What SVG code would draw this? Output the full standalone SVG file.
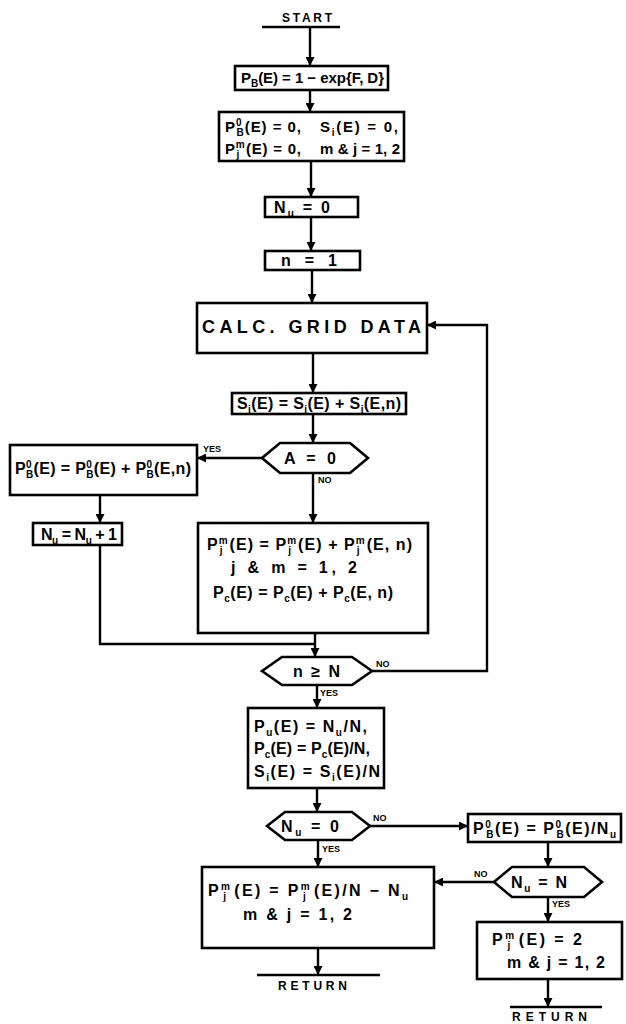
<svg xmlns="http://www.w3.org/2000/svg" width="626" height="1024" viewBox="0 0 626 1024">
<defs>
<marker id="ah" viewBox="0 0 10 10" refX="10" refY="5" markerWidth="9" markerHeight="9" markerUnits="userSpaceOnUse" orient="auto"><path d="M0,0 L10,5 L0,10 z" fill="#000"/></marker>
<style>
.b{fill:#fff;stroke:#000;stroke-width:2.6}
.c{fill:none;stroke:#000;stroke-width:2.4}
.a{fill:none;stroke:#000;stroke-width:2.4;marker-end:url(#ah)}
.t{font-family:"Liberation Sans",Arial,sans-serif;font-weight:bold;font-size:16px;fill:#000}
.s15{font-size:15px}
.sb{font-size:10px}
.l{font-family:"Liberation Sans",Arial,sans-serif;font-weight:bold;font-size:9px;fill:#000}
.k{font-family:"Liberation Sans",Arial,sans-serif;font-weight:bold;font-size:12px;fill:#000}
</style>
</defs>
<rect width="626" height="1024" fill="#fff"/>

<g id="connectors">
<line class="c" x1="262" y1="27" x2="340" y2="27"/>
<line class="a" x1="310" y1="27" x2="310" y2="66"/>
<line class="a" x1="310" y1="90" x2="310" y2="112"/>
<line class="a" x1="311" y1="161" x2="311" y2="197"/>
<line class="a" x1="311" y1="217" x2="311" y2="251"/>
<line class="a" x1="312" y1="270" x2="312" y2="303"/>
<line class="a" x1="313" y1="353" x2="313" y2="393"/>
<line class="a" x1="313" y1="414" x2="313" y2="443"/>
<line class="a" x1="262" y1="458" x2="197" y2="458"/>
<line class="a" x1="313" y1="473" x2="313" y2="523"/>
<line class="a" x1="100" y1="495" x2="100" y2="523"/>
<polyline class="c" points="100,545 100,644 315,644"/>
<line class="a" x1="315" y1="633" x2="315" y2="657"/>
<polyline class="a" points="372,671 487,671 487,325 427,325"/>
<line class="a" x1="317" y1="685" x2="317" y2="708"/>
<line class="a" x1="317" y1="788" x2="317" y2="812"/>
<line class="a" x1="370" y1="826" x2="468" y2="826"/>
<line class="a" x1="548" y1="842" x2="548" y2="867"/>
<line class="a" x1="494" y1="882" x2="434" y2="882"/>
<line class="a" x1="548" y1="897" x2="548" y2="922"/>
<line class="a" x1="318" y1="840" x2="318" y2="867"/>
<line class="a" x1="318" y1="948" x2="318" y2="975"/>
<line class="a" x1="548" y1="979" x2="548" y2="1007"/>
<line class="c" x1="257" y1="975" x2="380" y2="975"/>
<line class="c" x1="510" y1="1007" x2="602" y2="1007"/>
<text class="l" x="203" y="452">YES</text>
<text class="l" x="318" y="483">NO</text>
<text class="l" x="376" y="667">NO</text>
<text class="l" x="320" y="696">YES</text>
<text class="l" x="373" y="821">NO</text>
<text class="l" x="322" y="852">YES</text>
<text class="l" x="474" y="877">NO</text>
<text class="l" x="552" y="907">YES</text>
</g>

<g id="start"><text class="k" x="282" y="22" textLength="50" lengthAdjust="spacing">START</text></g>

<g id="n1"><rect class="b" x="235" y="66" width="153" height="24"/>
<text class="t s15" x="241" y="83" textLength="143" lengthAdjust="spacing">P<tspan class="sb" dy="4">B</tspan><tspan dy="-4">(E) = 1 − exp{F, D}</tspan></text></g>

<g id="n2"><rect class="b" x="219" y="112" width="185" height="49"/>
<text class="t s15" x="225" y="132" textLength="76" lengthAdjust="spacing">P<tspan class="sb" dy="-6">0</tspan><tspan class="sb" dx="-6" dy="10">B</tspan><tspan dy="-4">(E) = 0,</tspan></text>
<text class="t s15" x="320" y="132" textLength="78" lengthAdjust="spacing">S<tspan class="sb" dy="4">i</tspan><tspan dy="-4">(E) = 0,</tspan></text>
<text class="t s15" x="225" y="154" textLength="76" lengthAdjust="spacing">P<tspan class="sb" dy="-6">m</tspan><tspan class="sb" dx="-9" dy="10">j</tspan><tspan dx="6" dy="-4">(E) = 0,</tspan></text>
<text class="t s15" x="320" y="154" textLength="80" lengthAdjust="spacing">m &amp; j = 1, 2</text></g>

<g id="n3"><rect class="b" x="265" y="197" width="93" height="20"/>
<text class="t" x="274" y="213" textLength="56" lengthAdjust="spacing">N<tspan class="sb" dy="4">u</tspan><tspan dy="-4"> = 0</tspan></text></g>

<g id="n4"><rect class="b" x="265" y="251" width="95" height="19"/>
<text class="t" x="281" y="266" textLength="56" lengthAdjust="spacing">n = 1</text></g>

<g id="n5"><rect class="b" x="197" y="303" width="230" height="50"/>
<text class="t" x="202" y="333" style="font-size:18px" textLength="219" lengthAdjust="spacing">CALC. GRID DATA</text></g>

<g id="n6"><rect class="b" x="232" y="393" width="174" height="21"/>
<text class="t" x="237" y="409" textLength="164" lengthAdjust="spacing">S<tspan class="sb" dy="4">i</tspan><tspan dy="-4">(E) = S</tspan><tspan class="sb" dy="4">i</tspan><tspan dy="-4">(E) + S</tspan><tspan class="sb" dy="4">i</tspan><tspan dy="-4">(E,n)</tspan></text></g>

<g id="n7"><polygon class="b" points="262,458 280,443 350,443 368,458 350,473 280,473"/>
<text class="t" x="284" y="464" textLength="52" lengthAdjust="spacing">A = 0</text></g>

<g id="n8"><rect class="b" x="10" y="445" width="187" height="50"/>
<text class="t" x="15" y="474" textLength="176" lengthAdjust="spacing">P<tspan class="sb" dy="-6">0</tspan><tspan class="sb" dx="-6" dy="10">B</tspan><tspan dy="-4">(E) = P</tspan><tspan class="sb" dy="-6">0</tspan><tspan class="sb" dx="-6" dy="10">B</tspan><tspan dy="-4">(E) + P</tspan><tspan class="sb" dy="-6">0</tspan><tspan class="sb" dx="-6" dy="10">B</tspan><tspan dy="-4">(E,n)</tspan></text></g>

<g id="n9"><rect class="b" x="33" y="523" width="89" height="22"/>
<text class="t" x="41" y="540" textLength="76" lengthAdjust="spacing">N<tspan class="sb" dy="4">u</tspan><tspan dy="-4"> = N</tspan><tspan class="sb" dy="4">u</tspan><tspan dy="-4"> + 1</tspan></text></g>

<g id="n10"><rect class="b" x="198" y="523" width="230" height="110"/>
<text class="t" x="207" y="550" textLength="205" lengthAdjust="spacing">P<tspan class="sb" dy="-6">m</tspan><tspan class="sb" dx="-9" dy="10">j</tspan><tspan dx="6" dy="-4">(E) = P</tspan><tspan class="sb" dy="-6">m</tspan><tspan class="sb" dx="-9" dy="10">j</tspan><tspan dx="6" dy="-4">(E) + P</tspan><tspan class="sb" dy="-6">m</tspan><tspan class="sb" dx="-9" dy="10">j</tspan><tspan dx="6" dy="-4">(E, n)</tspan></text>
<text class="t" x="231" y="573" textLength="126" lengthAdjust="spacing">j &amp; m = 1, 2</text>
<text class="t" x="213" y="598" textLength="180" lengthAdjust="spacing">P<tspan class="sb" dy="4">c</tspan><tspan dy="-4">(E) = P</tspan><tspan class="sb" dy="4">c</tspan><tspan dy="-4">(E) + P</tspan><tspan class="sb" dy="4">c</tspan><tspan dy="-4">(E, n)</tspan></text></g>

<g id="n11"><polygon class="b" points="262,671 282,657 352,657 372,671 352,685 282,685"/>
<text class="t" x="293" y="677" textLength="47" lengthAdjust="spacing">n ≥ N</text></g>

<g id="n12"><rect class="b" x="248" y="708" width="136" height="80"/>
<text class="t" x="254" y="732" textLength="113" lengthAdjust="spacing">P<tspan class="sb" dy="4">u</tspan><tspan dy="-4">(E) = N</tspan><tspan class="sb" dy="4">u</tspan><tspan dy="-4">/N,</tspan></text>
<text class="t" x="254" y="754" textLength="116" lengthAdjust="spacing">P<tspan class="sb" dy="4">c</tspan><tspan dy="-4">(E) = P</tspan><tspan class="sb" dy="4">c</tspan><tspan dy="-4">(E)/N,</tspan></text>
<text class="t" x="254" y="777" textLength="126" lengthAdjust="spacing">S<tspan class="sb" dy="4">i</tspan><tspan dy="-4">(E) = S</tspan><tspan class="sb" dy="4">i</tspan><tspan dy="-4">(E)/N</tspan></text></g>

<g id="n13"><polygon class="b" points="267,826 285,812 352,812 370,826 352,840 285,840"/>
<text class="t" x="281" y="832" textLength="58" lengthAdjust="spacing">N<tspan class="sb" dy="4">u</tspan><tspan dy="-4"> = 0</tspan></text></g>

<g id="n14"><rect class="b" x="468" y="814" width="153" height="28"/>
<text class="t" x="473" y="834" textLength="143" lengthAdjust="spacing">P<tspan class="sb" dy="-6">0</tspan><tspan class="sb" dx="-6" dy="10">B</tspan><tspan dy="-4">(E) = P</tspan><tspan class="sb" dy="-6">0</tspan><tspan class="sb" dx="-6" dy="10">B</tspan><tspan dy="-4">(E)/N</tspan><tspan class="sb" dy="4">u</tspan></text></g>

<g id="n15"><polygon class="b" points="494,882 512,867 584,867 602,882 584,897 512,897"/>
<text class="t" x="511" y="888" textLength="56" lengthAdjust="spacing">N<tspan class="sb" dy="4">u</tspan><tspan dy="-4"> = N</tspan></text></g>

<g id="n16"><rect class="b" x="202" y="867" width="232" height="81"/>
<text class="t" x="208" y="896" textLength="200" lengthAdjust="spacing">P<tspan class="sb" dy="-6">m</tspan><tspan class="sb" dx="-9" dy="10">j</tspan><tspan dx="6" dy="-4">(E) = P</tspan><tspan class="sb" dy="-6">m</tspan><tspan class="sb" dx="-9" dy="10">j</tspan><tspan dx="6" dy="-4">(E)/N − N</tspan><tspan class="sb" dy="4">u</tspan></text>
<text class="t" x="243" y="920" textLength="109" lengthAdjust="spacing">m &amp; j = 1, 2</text></g>

<g id="n17"><rect class="b" x="477" y="922" width="145" height="57"/>
<text class="t" x="492" y="945" textLength="90" lengthAdjust="spacing">P<tspan class="sb" dy="-6">m</tspan><tspan class="sb" dx="-9" dy="10">j</tspan><tspan dx="6" dy="-4">(E) = 2</tspan></text>
<text class="t" x="507" y="968" textLength="98" lengthAdjust="spacing">m &amp; j = 1, 2</text></g>

<g id="ret1"><text class="k" x="278" y="990" textLength="69" lengthAdjust="spacing">RETURN</text></g>
<g id="ret2"><text class="k" x="512" y="1021" textLength="75" lengthAdjust="spacing">RETURN</text></g>
</svg>
